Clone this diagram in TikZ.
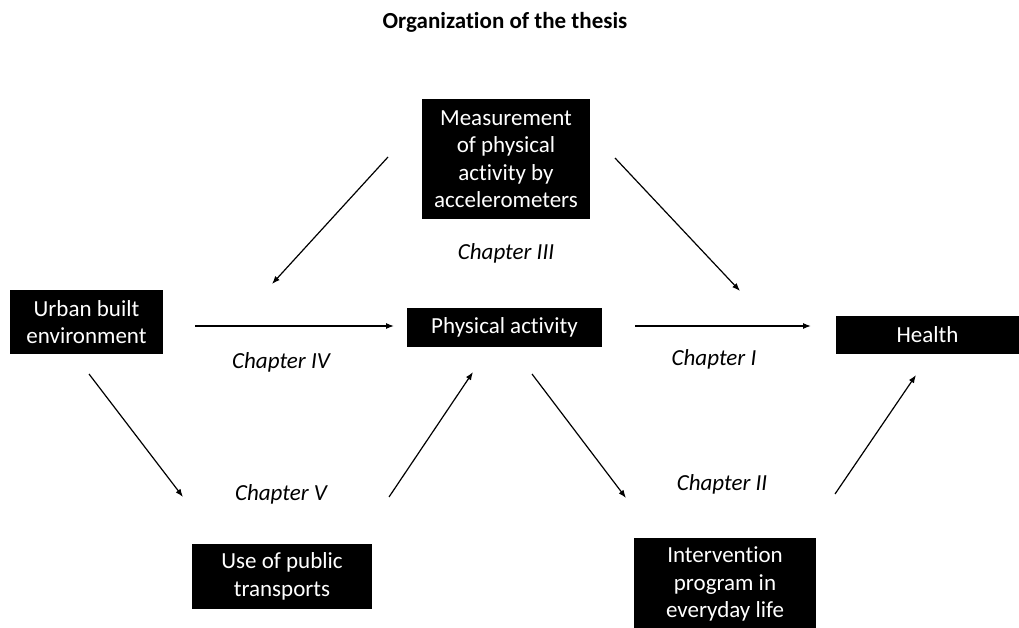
\documentclass[tikz,border=0pt]{standalone}
\usepackage{fontspec}
\setmainfont[Ligatures=NoCommon]{Carlito}
\usetikzlibrary{arrows.meta}
\begin{document}
\begin{tikzpicture}[x=1pt,y=-1pt,
  blk/.style={fill=black,text=white,font=\fontsize{23}{27.5}\selectfont,align=center,inner sep=0pt},
  lbl/.style={font=\fontsize{23}{27}\selectfont\itshape},
  arr/.style={-{Latex[length=8pt,width=6pt]},line width=1.2pt}]
\useasboundingbox (0,0) rectangle (1019,628);
\node[font=\fontsize{23}{27}\selectfont\bfseries] (title) at (505,22) {Organization of the thesis};
\node[blk,minimum width=168pt,minimum height=120pt] (meas) at (506,159) {Measurement\\of physical\\activity by\\accelerometers};
\node[blk,minimum width=153pt,minimum height=64pt] (urban) at (86.5,322) {Urban built\\environment};
\node[blk,minimum width=195pt,minimum height=39pt] (pa) at (504.5,327.5) {Physical activity};
\node[blk,minimum width=183pt,minimum height=38pt] (health) at (927.5,335) {Health};
\node[blk,minimum width=180pt,minimum height=65pt] (pt) at (282,576.5) {Use of public\\transports};
\node[blk,minimum width=182pt,minimum height=92pt] (ip) at (725,584) {Intervention\\program in\\everyday life};
\coordinate (a1s) at (388,157); \coordinate (a1e) at (272,284);
\coordinate (a2s) at (615,158); \coordinate (a2e) at (740,291);
\coordinate (a3s) at (195,326); \coordinate (a3e) at (394,326);
\coordinate (a4s) at (635,326); \coordinate (a4e) at (811,326);
\coordinate (a5s) at (89,374);  \coordinate (a5e) at (183,497);
\coordinate (a6s) at (389,497); \coordinate (a6e) at (473,372);
\coordinate (a7s) at (532,374); \coordinate (a7e) at (626,498);
\coordinate (a8s) at (835,494); \coordinate (a8e) at (916,375);
\draw[arr] (a1s) -- (a1e);
\draw[arr] (a2s) -- (a2e);
\draw[arr] (a3s) -- (a3e);
\draw[arr] (a4s) -- (a4e);
\draw[arr] (a5s) -- (a5e);
\draw[arr] (a6s) -- (a6e);
\draw[arr] (a7s) -- (a7e);
\draw[arr] (a8s) -- (a8e);
\node[lbl] (c3) at (506,253) {Chapter III};
\node[lbl] (c4) at (281,362) {Chapter IV};
\node[lbl] (c1) at (714,359) {Chapter I};
\node[lbl] (c5) at (281,494) {Chapter V};
\node[lbl] (c2) at (722,484) {Chapter II};
\end{tikzpicture}
\end{document}
